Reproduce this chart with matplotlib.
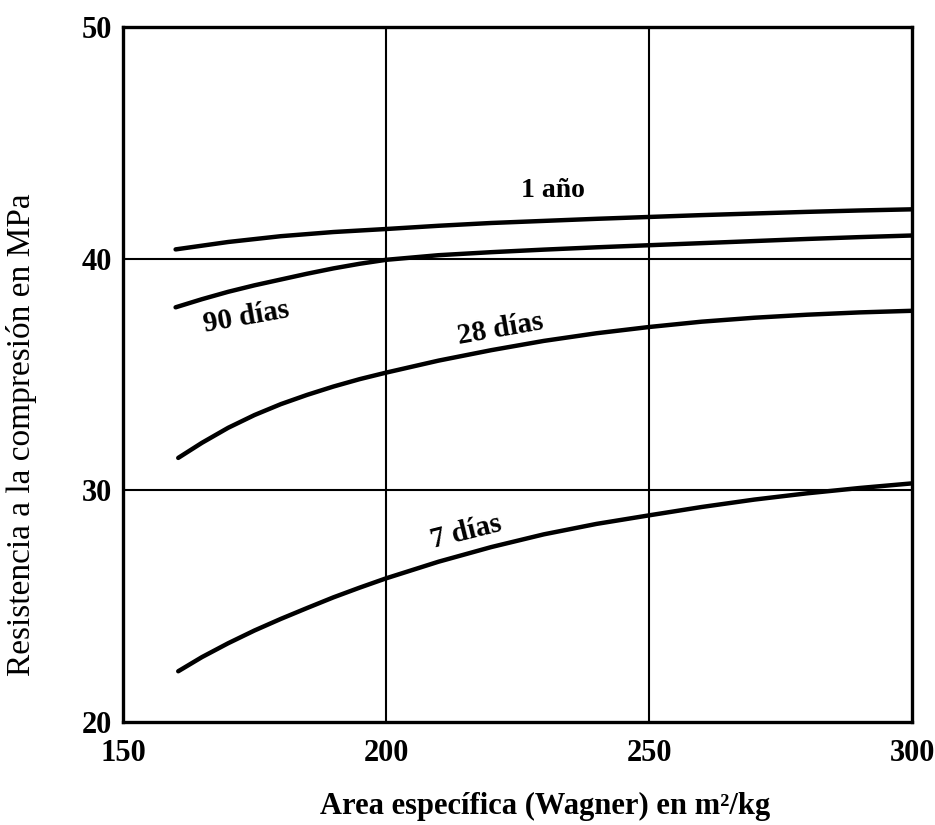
import matplotlib
matplotlib.use("Agg")
import matplotlib.pyplot as plt

# ---- data ----
x_1ano = [160, 170, 180, 190, 200, 210, 220, 230, 240, 250, 260, 270, 280, 290, 300]
y_1ano = [40.4, 40.72, 40.97, 41.15, 41.28, 41.42, 41.54, 41.63, 41.72, 41.8,
          41.88, 41.95, 42.02, 42.08, 42.13]

x_90 = [160, 165, 170, 175, 180, 185, 190, 195, 200, 210, 220, 230, 240, 250,
        260, 270, 280, 290, 300]
y_90 = [37.9, 38.25, 38.57, 38.85, 39.1, 39.35, 39.58, 39.78, 39.95, 40.15,
        40.28, 40.39, 40.49, 40.58, 40.67, 40.76, 40.85, 40.93, 41.0]

x_28 = [160.5, 165, 170, 175, 180, 185, 190, 195, 200, 210, 220, 230, 240, 250,
        260, 270, 280, 290, 300]
y_28 = [31.4, 32.05, 32.7, 33.25, 33.72, 34.12, 34.48, 34.8, 35.08, 35.6, 36.05,
        36.45, 36.78, 37.05, 37.28, 37.45, 37.58, 37.68, 37.75]

x_7 = [160.5, 165, 170, 175, 180, 185, 190, 195, 200, 210, 220, 230, 240, 250,
       260, 270, 280, 290, 300]
y_7 = [22.19, 22.8, 23.4, 23.95, 24.45, 24.92, 25.38, 25.8, 26.2, 26.92, 27.55,
       28.1, 28.55, 28.92, 29.28, 29.6, 29.87, 30.1, 30.3]

x_ticks = [150, 200, 250, 300]
y_ticks = [20, 30, 40, 50]

labels = ["1 año", "90 días", "28 días", "7 días"]
label_x = [231.7, 173.4, 221.7, 215.2]
label_y = [42.93, 37.46, 36.94, 28.19]
label_rot = [0, 10, 10, 14]

SERIF = ["Liberation Serif", "DejaVu Serif"]

fig = plt.figure(figsize=(9.35, 8.25), dpi=100)
ax = fig.add_axes([123 / 935, 1 - 722 / 825, (912 - 123) / 935, (722 - 27) / 825])

ax.set_xlim(150, 300)
ax.set_ylim(20, 50)

# interior grid lines
for gx in [200, 250]:
    ax.axvline(gx, color="black", lw=1.5, zorder=1)
for gy in [30, 40]:
    ax.axhline(gy, color="black", lw=1.5, zorder=1)

for xs, ys in [(x_1ano, y_1ano), (x_90, y_90), (x_28, y_28), (x_7, y_7)]:
    ax.plot(xs, ys, color="black", lw=3.2, solid_capstyle="round",
            solid_joinstyle="round", zorder=3)

for i, t in enumerate(labels):
    ax.text(label_x[i], label_y[i], t, family=SERIF,
            fontsize=20 if i == 0 else 21, fontweight="bold",
            rotation=label_rot[i], ha="center", va="center",
            rotation_mode="anchor", zorder=4)

for s in ax.spines.values():
    s.set_linewidth(2.4)
    s.set_color("black")

ax.set_xticks(x_ticks)
ax.set_yticks(y_ticks)
ax.tick_params(axis="x", length=0, pad=12)
ax.tick_params(axis="y", length=0, pad=8)
for lab in ax.get_xticklabels() + ax.get_yticklabels():
    lab.set_family(SERIF)
    lab.set_fontweight("bold")
    lab.set_fontsize(22)

fig.text(545 / 935, 1 - 806 / 825, "Area específica (Wagner) en m²/kg",
         family=SERIF, fontweight="bold", fontsize=22, ha="center", va="center")
fig.text(22 / 935, 1 - 435 / 825, "Resistencia a la compresión en MPa",
         family=SERIF, fontsize=24, rotation=90, ha="center", va="center")

fig.savefig("out.png", dpi=100, facecolor="white")
